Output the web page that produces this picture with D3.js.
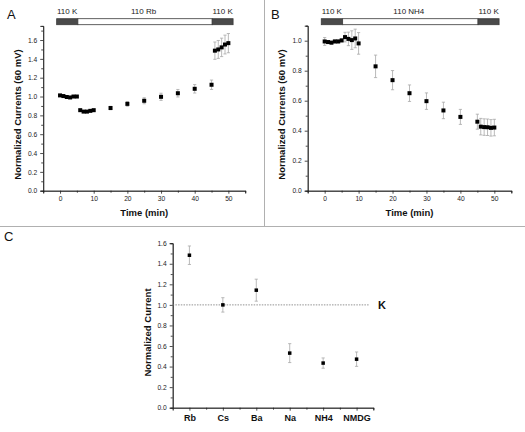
<!DOCTYPE html>
<html><head><meta charset="utf-8">
<script src="https://cdn.jsdelivr.net/npm/d3@7"></script>
<style>
html,body{margin:0;padding:0;background:#fff;}
svg{display:block;font-family:"Liberation Sans",Arial,sans-serif;}
</style></head>
<body>
<svg id="c" width="525" height="432"></svg>
<script>
// ---- Data ----
const timeA = [0,1,2,3,4,5,6,7,8,9,10,15,20,25,30,35,40,45,46,47,48,49,50];
const valA  = [1.012,1.005,0.995,0.99,1.0,1.0,0.855,0.84,0.84,0.848,0.855,0.878,0.922,0.955,0.997,1.035,1.082,1.125,1.487,1.5,1.522,1.552,1.567];
const errA  = [0.008,0.008,0.008,0.008,0.008,0.008,0.01,0.01,0.01,0.01,0.01,0.018,0.025,0.032,0.038,0.04,0.045,0.05,0.092,0.095,0.098,0.1,0.102];

const timeB = [0,1,2,3,4,5,6,7,8,9,10,15,20,25,30,35,40,45,46,47,48,49,50];
const valB  = [0.995,0.991,0.987,0.995,0.995,1.002,1.024,1.012,1.004,1.015,0.982,0.829,0.737,0.65,0.597,0.535,0.492,0.46,0.427,0.424,0.423,0.419,0.421];
const errB  = [0.026,0.01,0.01,0.01,0.01,0.01,0.032,0.045,0.062,0.062,0.072,0.075,0.064,0.055,0.055,0.055,0.05,0.05,0.055,0.055,0.055,0.055,0.055];

const ionsC = ["Rb","Cs","Ba","Na","NH4","NMDG"];
const valC  = [1.483,1.0,1.143,0.531,0.434,0.472];
const errC  = [0.09,0.07,0.107,0.092,0.05,0.07];

const yTicksA = [0,0.2,0.4,0.6,0.8,1.0,1.2,1.4,1.6];
const yTicksB = [0,0.2,0.4,0.6,0.8,1.0];
const xTicksT = [0,10,20,30,40,50];

const barLabelsA = ["110 K","110 Rb","110 K"];
const barLabelsB = ["110 K","110 NH4","110 K"];
const barLabelPos = [2.1,24.8,48.3];
const barSegStarts = [-1,5.3,45.2];
const barSegEnds = [5.3,45.2,51.4];
const barSegDark = [true,false,true];

// ---- Drawing ----
const svg = d3.select("#c");
const FONT = "'Liberation Sans',Arial,sans-serif";

// separator lines
svg.append("line").attr("x1",264.5).attr("x2",264.5).attr("y1",0).attr("y2",226).attr("stroke","#b0b0b0").attr("stroke-width",1);
svg.append("line").attr("x1",0).attr("x2",525).attr("y1",226.5).attr("y2",226.5).attr("stroke","#b0b0b0").attr("stroke-width",1);

function styleAxis(g){
  g.select(".domain").attr("stroke","#222").attr("stroke-width",0.8);
  g.selectAll(".tick line").attr("stroke","#222").attr("stroke-width",0.8);
  g.selectAll(".tick text").attr("fill","#222").style("font-size","6.7px").style("font-family",FONT);
}

function timePanel(opts){
  const {x0,x1,yTop,yMaxVal,times,vals,errs,yTicks,minorY,letter,letterX,yLabel,yLabelX,labels} = opts;
  const x = d3.scaleLinear().domain([-5,55]).range([x0,x1]);
  const y = d3.scaleLinear().domain([0,yMaxVal]).range([190.7,yTop]);
  const g = svg.append("g");

  // minor ticks
  const gxm = g.append("g").attr("transform","translate(0,190.7)")
    .call(d3.axisBottom(x).tickValues([-5,5,15,25,35,45,55]).tickSize(2).tickFormat(""));
  styleAxis(gxm);
  const gym = g.append("g").attr("transform",`translate(${x0},0)`)
    .call(d3.axisLeft(y).tickValues(minorY).tickSize(2).tickFormat(""));
  styleAxis(gym);

  const gx = g.append("g").attr("transform","translate(0,190.7)")
    .call(d3.axisBottom(x).tickValues(xTicksT).tickSize(3).tickPadding(3).tickFormat(d3.format("d")));
  styleAxis(gx);
  const gy = g.append("g").attr("transform",`translate(${x0},0)`)
    .call(d3.axisLeft(y).tickValues(yTicks).tickSize(3).tickPadding(3).tickFormat(d3.format(".1f")));
  styleAxis(gy);

  // error bars
  const eb = g.append("g").attr("stroke","#a8a8a8").attr("stroke-width",0.8);
  times.forEach((t,i)=>{
    const cx = x(t), ya = y(vals[i]+errs[i]), yb = y(vals[i]-errs[i]);
    eb.append("line").attr("x1",cx).attr("x2",cx).attr("y1",ya).attr("y2",yb);
    eb.append("line").attr("x1",cx-1.6).attr("x2",cx+1.6).attr("y1",ya).attr("y2",ya);
    eb.append("line").attr("x1",cx-1.6).attr("x2",cx+1.6).attr("y1",yb).attr("y2",yb);
  });
  // markers
  g.append("g").selectAll("rect").data(times).join("rect")
    .attr("x",(d)=>x(d)-2).attr("y",(d,i)=>y(vals[i])-2).attr("width",4).attr("height",4).attr("fill","#000");

  // top bar
  barSegStarts.forEach((s,i)=>{
    g.append("rect").attr("x",x(s)).attr("y",18.7).attr("width",x(barSegEnds[i])-x(s)).attr("height",6)
      .attr("fill",barSegDark[i]?"#4a4a4a":"#fff").attr("stroke","#3a3a3a").attr("stroke-width",0.8);
  });
  labels.forEach((l,i)=>{
    g.append("text").attr("x",x(barLabelPos[i])).attr("y",13.8).attr("text-anchor","middle")
      .style("font-size","8px").style("font-family",FONT).attr("fill","#222").text(l);
  });

  // labels
  g.append("text").attr("x",letterX).attr("y",18.5).style("font-size","13px").style("font-family",FONT).attr("fill","#111").text(letter);
  g.append("text").attr("transform",`translate(${yLabelX},114.5) rotate(-90)`).attr("text-anchor","middle")
    .style("font-size","9.5px").style("font-weight","bold").style("font-family",FONT).attr("fill","#111").text(yLabel);
  g.append("text").attr("x",(x(-5)+x(55))/2).attr("y",216).attr("text-anchor","middle")
    .style("font-size","9.5px").style("font-weight","bold").style("font-family",FONT).attr("fill","#111").text("Time (min)");
}

timePanel({x0:43.2,x1:245.2,yTop:25.9,yMaxVal:1.75,times:timeA,vals:valA,errs:errA,yTicks:yTicksA,
  minorY:[0.1,0.3,0.5,0.7,0.9,1.1,1.3,1.5,1.7],letter:"A",letterX:7,yLabel:"Normalized Currents (60 mV)",yLabelX:20.5,labels:barLabelsA});
timePanel({x0:307.7,x1:511.3,yTop:25.7,yMaxVal:1.1,times:timeB,vals:valB,errs:errB,yTicks:yTicksB,
  minorY:[0.1,0.3,0.5,0.7,0.9,1.1],letter:"B",letterX:271,yLabel:"Normalized Currents (60 mV)",yLabelX:284.5,labels:barLabelsB});

// Panel C
(function(){
  const x = d3.scaleLinear().domain([0.5,6.5]).range([172.7,373.3]);
  const y = d3.scaleLinear().domain([0,1.6]).range([407.7,243.2]);
  const g = svg.append("g");
  const gxm = g.append("g").attr("transform","translate(0,407.7)")
    .call(d3.axisBottom(x).tickValues([1.5,2.5,3.5,4.5,5.5,6.5]).tickSize(2).tickFormat(""));
  styleAxis(gxm);
  const gym = g.append("g").attr("transform","translate(172.7,0)")
    .call(d3.axisLeft(y).tickValues([0.1,0.3,0.5,0.7,0.9,1.1,1.3,1.5]).tickSize(2).tickFormat(""));
  styleAxis(gym);
  const gx = g.append("g").attr("transform","translate(0,407.7)")
    .call(d3.axisBottom(x).tickValues([1,2,3,4,5,6]).tickSize(3).tickPadding(4).tickFormat((d)=>ionsC[d-1]));
  styleAxis(gx);
  gx.selectAll(".tick text").style("font-size","9px").style("font-weight","bold").attr("fill","#111");
  const gy = g.append("g").attr("transform","translate(172.7,0)")
    .call(d3.axisLeft(y).tickValues(yTicksA).tickSize(3).tickPadding(3).tickFormat(d3.format(".1f")));
  styleAxis(gy);

  g.append("line").attr("x1",172.7).attr("x2",369.5).attr("y1",y(1)).attr("y2",y(1))
    .attr("stroke","#777").attr("stroke-width",0.8).attr("stroke-dasharray","1.5,1.2");
  g.append("text").attr("x",378).attr("y",y(1)+4).style("font-size","11px").style("font-weight","bold")
    .style("font-family",FONT).attr("fill","#111").text("K");

  const eb = g.append("g").attr("stroke","#a8a8a8").attr("stroke-width",0.8);
  ionsC.forEach((c,i)=>{
    const cx = x(i+1), ya = y(valC[i]+errC[i]), yb = y(valC[i]-errC[i]);
    eb.append("line").attr("x1",cx).attr("x2",cx).attr("y1",ya).attr("y2",yb);
    eb.append("line").attr("x1",cx-1.6).attr("x2",cx+1.6).attr("y1",ya).attr("y2",ya);
    eb.append("line").attr("x1",cx-1.6).attr("x2",cx+1.6).attr("y1",yb).attr("y2",yb);
  });
  g.append("g").selectAll("rect").data(ionsC).join("rect")
    .attr("x",(d,i)=>x(i+1)-1.75).attr("y",(d,i)=>y(valC[i])-1.75).attr("width",3.5).attr("height",3.5).attr("fill","#000");

  g.append("text").attr("x",4).attr("y",241).style("font-size","13px").style("font-family",FONT).attr("fill","#111").text("C");
  g.append("text").attr("transform","translate(150.5,332.5) rotate(-90)").attr("text-anchor","middle")
    .style("font-size","9.5px").style("font-weight","bold").style("font-family",FONT).attr("fill","#111").text("Normalized Current");
})();
</script>
</body></html>
